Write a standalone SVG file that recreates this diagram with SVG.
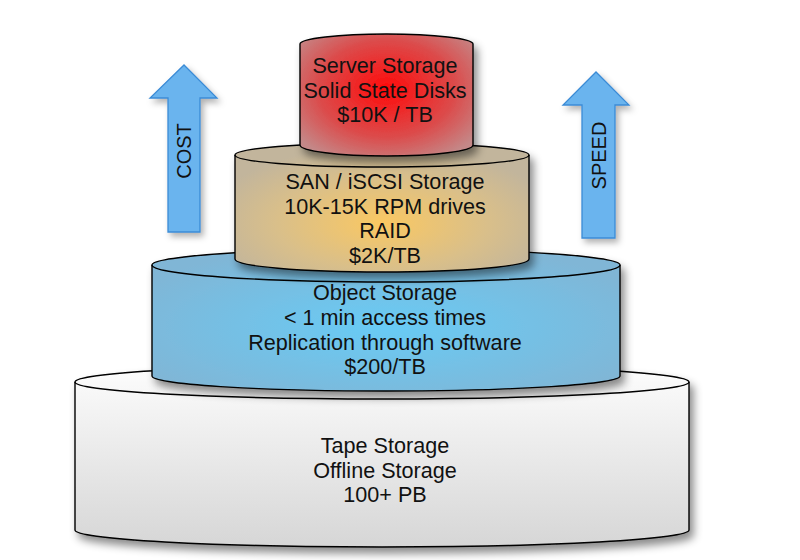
<svg xmlns="http://www.w3.org/2000/svg" width="800" height="560" viewBox="0 0 800 560">
<defs>
<style>
.body{stroke:#000;stroke-width:1.4;stroke-linejoin:round}
.arc{fill:none;stroke:#000;stroke-width:1.4}
.t{font-family:"Liberation Sans",Arial,Helvetica,sans-serif;font-size:21.6px;fill:#111;text-anchor:middle}
.at{font-family:"Liberation Sans",Arial,Helvetica,sans-serif;font-size:20px;fill:#111;text-anchor:middle}
.arrow{fill:#6ab4ee;stroke:#3b8bd6;stroke-width:1.3;stroke-linejoin:miter}
</style>
<filter id="sh" x="-10%" y="-10%" width="130%" height="140%">
<feDropShadow dx="4" dy="6" stdDeviation="4" flood-color="#000" flood-opacity="0.45"/>
</filter>
<filter id="sh2" x="-20%" y="-10%" width="150%" height="130%">
<feDropShadow dx="3" dy="4" stdDeviation="3" flood-color="#000" flood-opacity="0.3"/>
</filter>
<linearGradient id="gWhite" x1="0" y1="0" x2="0" y2="1">
<stop offset="0" stop-color="#fdfdfd"/>
<stop offset="1" stop-color="#d6d6d6"/>
</linearGradient>
<radialGradient id="gBlue" cx="0.5" cy="0.55" r="0.6">
<stop offset="0" stop-color="#68cbf5"/>
<stop offset="1" stop-color="#80b6d6"/>
</radialGradient>
<radialGradient id="gTan" cx="0.5" cy="0.62" r="0.6">
<stop offset="0" stop-color="#fac862"/>
<stop offset="0.6" stop-color="#d9bf8a"/>
<stop offset="1" stop-color="#c2b59c"/>
</radialGradient>
<radialGradient id="gRed" cx="0.5" cy="0.45" r="0.65">
<stop offset="0" stop-color="#ff0a0a"/>
<stop offset="0.6" stop-color="#dc4a4a"/>
<stop offset="1" stop-color="#c48888"/>
</radialGradient>
</defs>

<g id="tape">
<path class="body" filter="url(#sh)" fill="url(#gWhite)" d="M75,382 L75,530 A307,17 0 0 0 689,530 L689,382 A307,17 0 0 0 75,382 Z"/>
<path class="arc" d="M75,382 A307,17 0 0 0 689,382"/>
<text class="t" x="385" y="453">Tape Storage</text>
<text class="t" x="385" y="477.5">Offline Storage</text>
<text class="t" x="385" y="502">100+ PB</text>
</g>

<g id="object">
<path class="body" filter="url(#sh)" fill="url(#gBlue)" d="M152,265 L152,376 A234,15 0 0 0 620,376 L620,265 A234,16 0 0 0 152,265 Z"/>
<path class="arc" d="M152,265 A234,17 0 0 0 620,265"/>
<text class="t" x="385" y="300">Object Storage</text>
<text class="t" x="385" y="325">&lt; 1 min access times</text>
<text class="t" x="385" y="349.5">Replication through software</text>
<text class="t" x="385" y="374">$200/TB</text>
</g>

<g id="san">
<path class="body" filter="url(#sh)" fill="url(#gTan)" d="M235,155 L235,259 A147,13 0 0 0 529,259 L529,155 A147,12 0 0 0 235,155 Z"/>
<path class="arc" d="M235,155 A147,12 0 0 0 529,155"/>
<text class="t" x="385" y="189">SAN / iSCSI Storage</text>
<text class="t" x="385" y="213.5">10K-15K RPM drives</text>
<text class="t" x="385" y="238">RAID</text>
<text class="t" x="385" y="262.5">$2K/TB</text>
</g>

<g id="server">
<path class="body" filter="url(#sh)" fill="url(#gRed)" d="M300,44 L300,145 A86.5,11 0 0 0 473,145 L473,44 A86.5,10 0 0 0 300,44 Z"/>
<text class="t" x="385" y="73">Server Storage</text>
<text class="t" x="385" y="97.5">Solid State Disks</text>
<text class="t" x="385" y="122">$10K / TB</text>
</g>

<g id="cost">
<polygon class="arrow" filter="url(#sh2)" points="168,232 168,98 150,98 184,65 217,98 200,98 200,232"/>
<text class="at" transform="translate(190.5,151) rotate(-90)">COST</text>
</g>

<g id="speed">
<polygon class="arrow" filter="url(#sh2)" points="582,238 582,105 563,105 596,72 629,105 615,105 615,238"/>
<text class="at" transform="translate(605.5,155.5) rotate(-90)">SPEED</text>
</g>

<g id="connectors"></g>
</svg>
